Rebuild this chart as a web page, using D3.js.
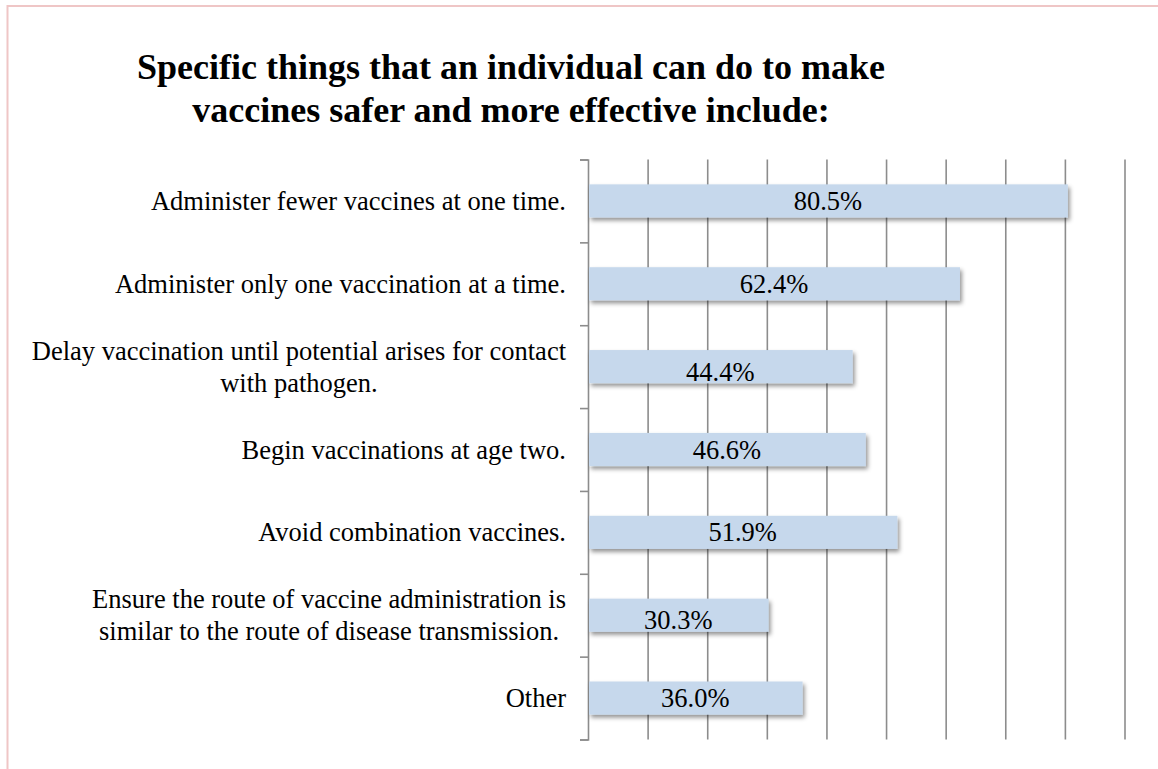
<!DOCTYPE html>
<html>
<head>
<meta charset="utf-8">
<script src="https://cdn.jsdelivr.net/npm/d3@7"></script>
<style>
  html, body { margin: 0; padding: 0; background: #fff; }
  svg { display: block; }
</style>
</head>
<body>
<svg id="chart" width="1158" height="769"></svg>
<script>
// ---- data ----
const titleLines = [
  "Specific things that an individual can do to make",
  "vaccines safer and more effective include:"
];
const categories = [
  ["Administer fewer vaccines at one time."],
  ["Administer only one vaccination at a time."],
  ["Delay vaccination until potential arises for contact", "with pathogen."],
  ["Begin vaccinations at age two."],
  ["Avoid combination vaccines."],
  ["Ensure the route of vaccine administration is", "similar to the route of disease transmission."],
  ["Other"]
];
const values = [0.805, 0.624, 0.444, 0.466, 0.519, 0.303, 0.360];
const valueLabels = ["80.5%", "62.4%", "44.4%", "46.6%", "51.9%", "30.3%", "36.0%"];
const gridTicks = [0, 0.1, 0.2, 0.3, 0.4, 0.5, 0.6, 0.7, 0.8, 0.9];

// ---- layout ----
const svg = d3.select("#chart");
const serif = "'Liberation Serif', 'Times New Roman', Times, serif";
const plot = { left: 588, right: 1124.5, top: 159.5, bottom: 739.5 };

// border
svg.append("rect")
  .attr("x", 7.5).attr("y", 6).attr("width", 1200).attr("height", 820)
  .attr("fill", "none").attr("stroke", "#efc6c6").attr("stroke-width", 2);

// title
svg.append("g").selectAll("text").data(titleLines).join("text")
  .attr("x", 511).attr("y", (d, i) => 79 + i * 43)
  .attr("text-anchor", "middle")
  .attr("font-family", serif).attr("font-weight", "bold").attr("font-size", 36)
  .attr("fill", "#000")
  .text(d => d);

const idx = categories.map((d, i) => i);
const x = d3.scaleLinear().domain([0, 0.9]).range([plot.left, plot.right]);
const y = d3.scaleBand().domain(idx).range([plot.top, plot.bottom]).paddingInner(0.6).paddingOuter(0.3);
const yEdge = d3.scaleLinear().domain([0, categories.length]).range([plot.top, plot.bottom]);

// shadow filter
const defs = svg.append("defs");
const f = defs.append("filter").attr("id", "shadow")
  .attr("x", "-10%").attr("y", "-30%").attr("width", "130%").attr("height", "180%");
f.append("feDropShadow").attr("dx", 2).attr("dy", 3).attr("stdDeviation", 2)
  .attr("flood-color", "#000").attr("flood-opacity", 0.42);

// gridlines
const gx = d3.axisBottom(x).tickValues(gridTicks.slice(1)).tickSize(-(plot.bottom - plot.top)).tickFormat("");
svg.append("g").attr("transform", `translate(0,${plot.bottom})`).call(gx)
  .call(g => g.select(".domain").remove())
  .call(g => g.selectAll(".tick line").attr("stroke", "#8c8c8c").attr("stroke-width", 1.6));

// left category axis with ticks at band edges
const edges = d3.range(categories.length + 1);
const yAxis = d3.axisLeft(yEdge).tickValues(edges).tickSize(8).tickFormat("");
svg.append("g").attr("transform", `translate(${plot.left},0)`).call(yAxis)
  .call(g => g.select(".domain").attr("stroke", "#8c8c8c").attr("stroke-width", 1.6))
  .call(g => g.selectAll(".tick line").attr("stroke", "#8c8c8c").attr("stroke-width", 1.6));

// bars
svg.append("g").selectAll("rect").data(values).join("rect")
  .attr("x", x(0) + 1)
  .attr("y", (d, i) => y(i))
  .attr("width", d => x(d) - x(0) - 1)
  .attr("height", y.bandwidth())
  .attr("fill", "#c6d8ec")
  .attr("filter", "url(#shadow)");

// value labels
svg.append("g").selectAll("text").data(values).join("text")
  .attr("x", d => (x(0) + x(d)) / 2)
  .attr("y", (d, i) => y(i) + y.bandwidth() / 2 + 9 + (categories[i].length > 1 ? 5 : 0))
  .attr("text-anchor", "middle")
  .attr("font-family", serif).attr("font-size", 26.5).attr("fill", "#000")
  .text((d, i) => valueLabels[i]);

// category labels
const labelRight = 566;
const lineH = 32;
const lg = svg.append("g");
categories.forEach((lines, i) => {
  const cy = y(i) + y.bandwidth() / 2;
  const t = lg.append("text")
    .attr("font-family", serif).attr("font-size", 26.5).attr("fill", "#000")
    .attr("text-anchor", "middle");
  const spans = lines.map((s, k) => t.append("tspan")
    .attr("y", cy + 9 + (k - (lines.length - 1) / 2) * lineH)
    .text(s));
  const maxW = d3.max(spans, sp => sp.node().getComputedTextLength());
  spans.forEach(sp => sp.attr("x", labelRight - maxW / 2));
});
</script>
</body>
</html>
